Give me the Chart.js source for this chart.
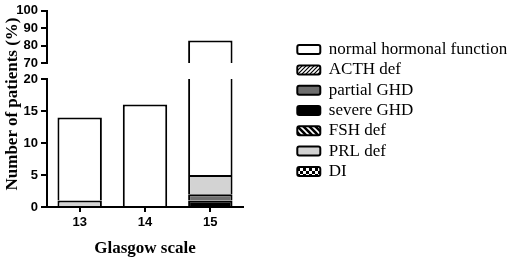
<!DOCTYPE html>
<html>
<head>
<meta charset="utf-8">
<script src="https://cdn.jsdelivr.net/npm/chart.js@4.4.1/dist/chart.umd.min.js"></script>
<style>
    html, body { margin: 0; padding: 0; background: #fff; overflow: hidden; }
    #wrap { position: relative; width: 510px; height: 259px; }
    #wrap canvas { position: absolute; left: 0; top: 0; }
    #yTitle {
        position: absolute; left: -98px; top: 94px; width: 220px; height: 20px;
        line-height: 20px; text-align: center; transform: rotate(-90deg);
        font: bold 17px 'Liberation Serif', 'Times New Roman', serif; color: #000;
        white-space: nowrap;
    }
</style>
</head>
<body>
<div id="wrap">
    <canvas id="lowerChart" width="510" height="259"></canvas>
    <canvas id="upperChart" width="510" height="221"></canvas>
    <div id="yTitle">Number of patients (%)</div>
</div>
<script>
// values
const categories = ['13', '14', '15'];
const normalFunction = [13, 16, 78];
const acthDef = [0, 0, 0];
const partialGhd = [0, 0, 1];
const severeGhd = [0, 0, 1];
const fshDef = [0, 0, 0];
const prlDef = [1, 0, 3];
const diabetesInsipidus = [0, 0, 0];

const lowerTicks = [0, 5, 10, 15, 20];
const upperTicks = [70, 80, 90, 100];

const legendOrder = ['normal hormonal function', 'ACTH def', 'partial GHD', 'severe GHD', 'FSH def', 'PRL def', 'DI'];

// layout
const PLOT_LEFT = 47;
const PLOT_RIGHT = 243;
const UPPER_BOTTOM = 63;
const LOWER_TOP = 79;
const LOWER_BOTTOM = 207;
const LEGEND_WIDTH = 216;

const tickFont = { family: "'Liberation Sans', Arial, sans-serif", size: 13, weight: 'bold' };
const titleFont = { family: "'Liberation Serif', 'Times New Roman', serif", size: 17, weight: 'bold' };

function makePattern(size, draw) {
    const c = document.createElement('canvas');
    c.width = size;
    c.height = size;
    const g = c.getContext('2d');
    draw(g, size);
    return g.createPattern(c, 'repeat');
}

const hatchPattern = makePattern(4, function (g, s) {
    g.fillStyle = '#fff';
    g.fillRect(0, 0, s, s);
    g.strokeStyle = '#000';
    g.lineWidth = 1.2;
    g.beginPath();
    g.moveTo(0, s); g.lineTo(s, 0);
    g.moveTo(-1, 1); g.lineTo(1, -1);
    g.moveTo(s - 1, s + 1); g.lineTo(s + 1, s - 1);
    g.stroke();
});

const stripePattern = makePattern(6, function (g, s) {
    g.fillStyle = '#000';
    g.fillRect(0, 0, s, s);
    g.strokeStyle = '#fff';
    g.lineWidth = 1.6;
    g.beginPath();
    g.moveTo(0, 0); g.lineTo(s, s);
    g.moveTo(-1, s - 1); g.lineTo(1, s + 1);
    g.moveTo(s - 1, -1); g.lineTo(s + 1, 1);
    g.stroke();
});

const checkerPattern = makePattern(6, function (g, s) {
    g.fillStyle = '#000';
    g.fillRect(0, 0, s, s);
    g.fillStyle = '#fff';
    g.fillRect(0, 0, 3, 3);
    g.fillRect(3, 3, 3, 3);
});

function series(label, data, fill) {
    return {
        label: label,
        data: data,
        backgroundColor: fill,
        borderColor: '#000',
        borderWidth: 2,
        borderSkipped: 'start',
        barPercentage: 0.68,
        categoryPercentage: 1,
        clip: 0,
    };
}

// stacked bottom to top
function buildDatasets() {
    return [
        series('severe GHD', severeGhd, '#000'),
        series('partial GHD', partialGhd, '#6e6e6e'),
        series('ACTH def', acthDef, hatchPattern),
        series('FSH def', fshDef, stripePattern),
        series('DI', diabetesInsipidus, checkerPattern),
        series('PRL def', prlDef, '#d3d3d3'),
        series('normal hormonal function', normalFunction, '#fff'),
    ];
}

function yAxis(min, max, step) {
    return {
        min: min,
        max: max,
        stacked: true,
        afterFit: function (scale) { scale.width = PLOT_LEFT; },
        ticks: { stepSize: step, autoSkip: false, color: '#000', font: tickFont, padding: 3 },
        grid: { display: true, drawOnChartArea: false, drawTicks: true, tickLength: 6, color: '#000', lineWidth: 2 },
        border: { display: true, color: '#000', width: 2 },
    };
}

const lowerChart = new Chart(document.getElementById('lowerChart'), {
    type: 'bar',
    data: { labels: categories, datasets: buildDatasets() },
    options: {
        responsive: false,
        animation: false,
        layout: { padding: { top: LOWER_TOP, right: 510 - PLOT_RIGHT, left: 0, bottom: 0 } },
        plugins: { legend: { display: false }, tooltip: { enabled: false } },
        scales: {
            x: {
                stacked: true,
                afterFit: function (scale) { scale.height = 259 - LOWER_BOTTOM; },
                ticks: { color: '#000', font: tickFont, padding: 3 },
                grid: { display: true, offset: false, drawOnChartArea: false, drawTicks: true, tickLength: 5, color: '#000', lineWidth: 2 },
                border: { display: true, color: '#000', width: 2 },
                title: { display: true, text: 'Glasgow scale', color: '#000', font: titleFont, padding: { top: 8, bottom: 0 } },
            },
            y: yAxis(lowerTicks[0], lowerTicks[lowerTicks.length - 1], lowerTicks[1] - lowerTicks[0]),
        },
    },
});

const upperChart = new Chart(document.getElementById('upperChart'), {
    type: 'bar',
    data: { labels: categories, datasets: buildDatasets() },
    options: {
        responsive: false,
        animation: false,
        layout: { padding: 0 },
        plugins: {
            tooltip: { enabled: false },
            legend: {
                position: 'right',
                align: 'center',
                maxWidth: LEGEND_WIDTH,
                labels: {
                    boxWidth: 23,
                    boxHeight: 9,
                    padding: 3.3,
                    color: '#000',
                    useBorderRadius: true,
                    borderRadius: 2,
                    font: { family: "'Liberation Serif', 'Times New Roman', serif", size: 17 },
                    sort: function (a, b) {
                        return legendOrder.indexOf(a.text) - legendOrder.indexOf(b.text);
                    },
                },
            },
        },
        scales: {
            x: {
                stacked: true,
                afterFit: function (scale) { scale.height = scale.chart.height - UPPER_BOTTOM; },
                ticks: { display: false },
                grid: { display: false },
                border: { display: false },
            },
            y: yAxis(upperTicks[0], upperTicks[upperTicks.length - 1], upperTicks[1] - upperTicks[0]),
            spacer: {
                type: 'linear',
                position: 'right',
                afterFit: function (scale) {
                    const lg = scale.chart.legend;
                    scale.width = Math.max(0, scale.chart.width - PLOT_RIGHT - (lg ? lg.width : 0));
                },
                ticks: { display: false },
                grid: { display: false },
                border: { display: false },
            },
        },
    },
});
</script>
</body>
</html>
